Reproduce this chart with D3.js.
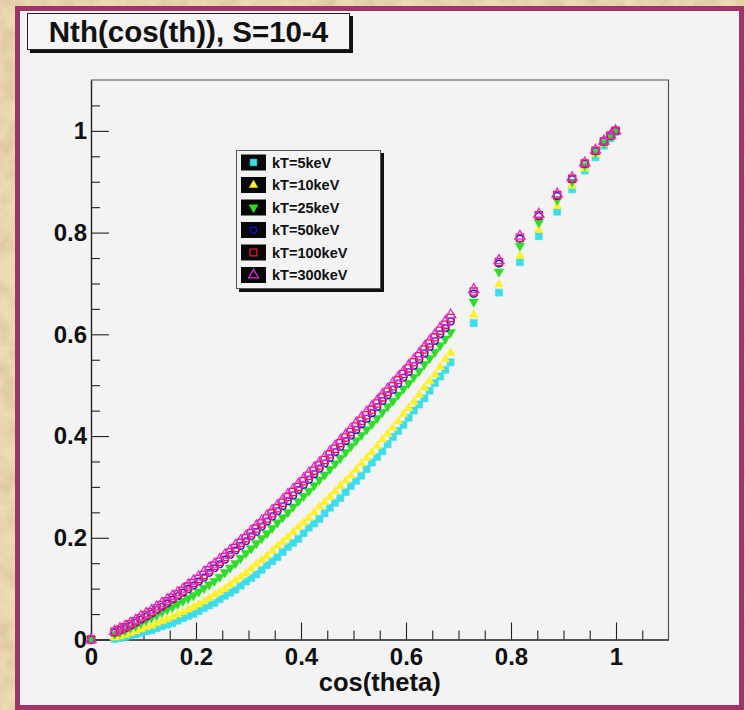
<!DOCTYPE html>
<html>
<head>
<meta charset="utf-8">
<script src="https://cdn.jsdelivr.net/npm/d3@7"></script>
<style>
  html, body { margin: 0; padding: 0; background: #e8d3a8; }
  svg { display: block; }
</style>
</head>
<body>
<div id="chart"></div>
<script>
// cos(theta) bin positions
const cosTheta = [0,
  0.045, 0.055, 0.065, 0.075, 0.085, 0.095, 0.105, 0.115, 0.125, 0.135,
  0.145, 0.155, 0.165, 0.175, 0.185, 0.195, 0.205, 0.215, 0.225, 0.235,
  0.245, 0.255, 0.265, 0.275, 0.285, 0.295, 0.305, 0.315, 0.325, 0.335,
  0.345, 0.355, 0.365, 0.375, 0.385, 0.395, 0.405, 0.415, 0.425, 0.435,
  0.445, 0.455, 0.465, 0.475, 0.485, 0.495, 0.505, 0.515, 0.525, 0.535,
  0.545, 0.555, 0.565, 0.575, 0.585, 0.595, 0.605, 0.615, 0.625, 0.635,
  0.645, 0.655, 0.665, 0.675, 0.685,
  0.729, 0.777, 0.817, 0.853, 0.888, 0.9165, 0.9405, 0.961, 0.977, 0.9895, 0.999];

const nth5keV = [0,
  0.001, 0.003, 0.005, 0.008, 0.010, 0.013, 0.016, 0.018, 0.022, 0.026,
  0.029, 0.032, 0.037, 0.042, 0.046, 0.050, 0.056, 0.062, 0.067, 0.072,
  0.079, 0.086, 0.092, 0.098, 0.106, 0.114, 0.121, 0.128, 0.137, 0.146,
  0.154, 0.162, 0.172, 0.182, 0.190, 0.198, 0.209, 0.220, 0.228, 0.237,
  0.248, 0.259, 0.269, 0.278, 0.290, 0.302, 0.312, 0.322, 0.335, 0.348,
  0.359, 0.370, 0.384, 0.398, 0.410, 0.422, 0.436, 0.450, 0.462, 0.474,
  0.489, 0.504, 0.517, 0.530, 0.545,
  0.622, 0.682, 0.742, 0.793, 0.841, 0.885, 0.922, 0.948, 0.971, 0.985, 0.998];

const nth10keV = [0,
  0.004, 0.006, 0.009, 0.013, 0.016, 0.020, 0.024, 0.027, 0.032, 0.036,
  0.040, 0.045, 0.049, 0.054, 0.059, 0.064, 0.069, 0.075, 0.081, 0.088,
  0.094, 0.100, 0.108, 0.116, 0.123, 0.130, 0.139, 0.148, 0.156, 0.164,
  0.174, 0.184, 0.192, 0.201, 0.211, 0.221, 0.230, 0.239, 0.250, 0.261,
  0.270, 0.280, 0.291, 0.302, 0.312, 0.322, 0.334, 0.346, 0.357, 0.368,
  0.380, 0.393, 0.404, 0.416, 0.429, 0.443, 0.455, 0.467, 0.481, 0.495,
  0.508, 0.521, 0.536, 0.551, 0.564,
  0.638, 0.698, 0.754, 0.805, 0.852, 0.892, 0.926, 0.954, 0.975, 0.988, 0.999];

const nth25keV = [0,
  0.011, 0.014, 0.018, 0.023, 0.027, 0.032, 0.038, 0.043, 0.048, 0.054,
  0.059, 0.064, 0.070, 0.076, 0.081, 0.087, 0.094, 0.101, 0.108, 0.115,
  0.123, 0.132, 0.141, 0.150, 0.160, 0.170, 0.179, 0.189, 0.199, 0.209,
  0.219, 0.230, 0.240, 0.250, 0.261, 0.272, 0.282, 0.292, 0.303, 0.314,
  0.324, 0.335, 0.346, 0.357, 0.368, 0.380, 0.391, 0.402, 0.413, 0.424,
  0.435, 0.447, 0.458, 0.469, 0.481, 0.493, 0.504, 0.516, 0.528, 0.541,
  0.553, 0.565, 0.578, 0.591, 0.604,
  0.664, 0.723, 0.774, 0.820, 0.864, 0.900, 0.932, 0.958, 0.977, 0.989, 0.999];

const nth50keV = [0,
  0.014, 0.018, 0.022, 0.027, 0.033, 0.039, 0.045, 0.051, 0.058, 0.064,
  0.071, 0.078, 0.085, 0.092, 0.099, 0.106, 0.114, 0.122, 0.131, 0.140,
  0.148, 0.157, 0.166, 0.175, 0.184, 0.193, 0.203, 0.212, 0.222, 0.232,
  0.242, 0.252, 0.262, 0.272, 0.283, 0.294, 0.304, 0.314, 0.325, 0.336,
  0.346, 0.357, 0.368, 0.379, 0.390, 0.401, 0.412, 0.423, 0.434, 0.445,
  0.457, 0.469, 0.480, 0.491, 0.503, 0.515, 0.526, 0.538, 0.550, 0.562,
  0.575, 0.587, 0.600, 0.612, 0.625,
  0.680, 0.739, 0.788, 0.832, 0.872, 0.905, 0.935, 0.960, 0.979, 0.990, 1.000];

const nth100keV = [0,
  0.015, 0.019, 0.024, 0.030, 0.036, 0.042, 0.048, 0.054, 0.061, 0.068,
  0.075, 0.082, 0.089, 0.096, 0.104, 0.111, 0.119, 0.127, 0.136, 0.145,
  0.153, 0.162, 0.171, 0.180, 0.190, 0.199, 0.209, 0.218, 0.228, 0.238,
  0.248, 0.258, 0.269, 0.280, 0.290, 0.300, 0.311, 0.322, 0.332, 0.342,
  0.353, 0.364, 0.375, 0.386, 0.397, 0.408, 0.419, 0.430, 0.441, 0.452,
  0.464, 0.476, 0.487, 0.498, 0.510, 0.522, 0.533, 0.545, 0.557, 0.570,
  0.582, 0.594, 0.607, 0.619, 0.632,
  0.684, 0.742, 0.790, 0.834, 0.874, 0.906, 0.936, 0.961, 0.979, 0.991, 1.000];

const nth300keV = [0,
  0.016, 0.021, 0.026, 0.032, 0.038, 0.045, 0.051, 0.057, 0.064, 0.071,
  0.078, 0.085, 0.092, 0.099, 0.107, 0.115, 0.123, 0.132, 0.140, 0.148,
  0.157, 0.166, 0.175, 0.185, 0.194, 0.203, 0.213, 0.223, 0.233, 0.243,
  0.253, 0.263, 0.274, 0.285, 0.295, 0.305, 0.316, 0.327, 0.337, 0.347,
  0.358, 0.369, 0.380, 0.391, 0.402, 0.414, 0.425, 0.436, 0.447, 0.458,
  0.469, 0.481, 0.492, 0.504, 0.515, 0.526, 0.538, 0.550, 0.562, 0.575,
  0.587, 0.599, 0.612, 0.625, 0.638,
  0.688, 0.745, 0.793, 0.836, 0.876, 0.908, 0.937, 0.962, 0.980, 0.991, 1.000];

const seriesNames = ['kT=5keV', 'kT=10keV', 'kT=25keV', 'kT=50keV', 'kT=100keV', 'kT=300keV'];
const seriesValues = [nth5keV, nth10keV, nth25keV, nth50keV, nth100keV, nth300keV];

const xMajor  = [0, 0.2, 0.4, 0.6, 0.8, 1];
const xMinor  = [0.05, 0.1, 0.15, 0.25, 0.3, 0.35, 0.45, 0.5, 0.55, 0.65, 0.7, 0.75, 0.85, 0.9, 0.95, 1.05];
const xLabels = ['0', '0.2', '0.4', '0.6', '0.8', '1'];
const yMajor  = [0, 0.2, 0.4, 0.6, 0.8, 1];
const yMinor  = [0.05, 0.1, 0.15, 0.25, 0.3, 0.35, 0.45, 0.5, 0.55, 0.65, 0.7, 0.75, 0.85, 0.9, 0.95, 1.05];
const yLabels = ['0', '0.2', '0.4', '0.6', '0.8', '1'];

const titleText = 'Nth(cos(th)), S=10-4';
const xTitle    = 'cos(theta)';

// marker look for each series (ROOT style)
const markers = [
  { shape: d3.symbolSquare,   color: '#3ddcec', fill: true,  size: 50, rot: 0 },
  { shape: d3.symbolTriangle, color: '#fff02a', fill: true,  size: 34, rot: 0 },
  { shape: d3.symbolTriangle, color: '#2fdc28', fill: true,  size: 40, rot: 180 },
  { shape: d3.symbolCircle,   color: '#1010e8', fill: false, size: 36, rot: 0 },
  { shape: d3.symbolSquare,   color: '#f01030', fill: false, size: 52, rot: 0 },
  { shape: d3.symbolTriangle, color: '#d830d0', fill: false, size: 46, rot: 0 }
];

const W = 745, H = 710;
const font = '"Liberation Sans", Arial, Helvetica, sans-serif';
const svg = d3.select('#chart').append('svg').attr('width', W).attr('height', H);

// parchment backdrop
const defs = svg.append('defs');
const paper = defs.append('filter').attr('id', 'paper')
  .attr('x', 0).attr('y', 0).attr('width', '100%').attr('height', '100%');
paper.append('feTurbulence').attr('type', 'fractalNoise')
  .attr('baseFrequency', '0.05').attr('numOctaves', 4).attr('seed', 7);
paper.append('feColorMatrix').attr('type', 'matrix')
  .attr('values', '0 0 0 0 0.60  0 0 0 0 0.47  0 0 0 0 0.28  1.3 0 0 0 -0.45');
svg.append('rect').attr('width', W).attr('height', H).attr('fill', '#eedbb4');
svg.append('rect').attr('width', W).attr('height', H).attr('filter', 'url(#paper)').attr('opacity', 0.9);

// canvas with purple border
svg.append('rect')
  .attr('x', 17.5).attr('y', 8.5).attr('width', 724).attr('height', 699)
  .attr('fill', '#f3f3f3').attr('stroke', '#a0336a').attr('stroke-width', 5);

// title pave
svg.append('rect').attr('x', 30).attr('y', 16).attr('width', 323).attr('height', 37).attr('fill', '#111');
svg.append('rect').attr('x', 27.5).attr('y', 13.5).attr('width', 322).attr('height', 36)
  .attr('fill', '#f4f4f4').attr('stroke', '#222').attr('stroke-width', 1);
svg.append('text').attr('x', 188.5).attr('y', 41.5)
  .attr('text-anchor', 'middle').attr('font-family', font).attr('font-weight', 'bold')
  .attr('font-size', '29.5px').attr('fill', '#111').text(titleText);

// scales
const x = d3.scaleLinear().domain([0, 1.1]).range([91, 668.5]);
const y = d3.scaleLinear().domain([0, 1.1]).range([639.5, 80]);

// frame top / right
svg.append('path')
  .attr('d', `M${x(0)},${y(1.1)}H${x(1.1)}V${y(0)}`)
  .attr('fill', 'none').attr('stroke', '#555').attr('stroke-width', 1.2);

function styleAxis(g, fs) {
  g.select('.domain').attr('stroke', '#222').attr('stroke-width', 1.4);
  g.selectAll('.tick line').attr('stroke', '#222').attr('stroke-width', 1.1);
  g.selectAll('.tick text').attr('font-family', font).attr('font-weight', 'bold')
    .attr('font-size', fs + 'px').attr('fill', '#111');
}

// x axis
const gx = svg.append('g').attr('transform', `translate(0,${y(0)})`)
  .call(d3.axisBottom(x).tickValues(xMajor).tickSizeInner(-17).tickSizeOuter(0)
    .tickPadding(8).tickFormat((d, i) => xLabels[i]));
styleAxis(gx, 24);
const gxm = svg.append('g').attr('transform', `translate(0,${y(0)})`)
  .call(d3.axisBottom(x).tickValues(xMinor).tickSizeInner(-9).tickSizeOuter(0).tickFormat(''));
gxm.select('.domain').remove();
styleAxis(gxm, 24);

// y axis
const gy = svg.append('g').attr('transform', `translate(${x(0)},0)`)
  .call(d3.axisLeft(y).tickValues(yMajor).tickSizeInner(-18).tickSizeOuter(0)
    .tickPadding(4).tickFormat((d, i) => yLabels[i]));
styleAxis(gy, 24);
const gym = svg.append('g').attr('transform', `translate(${x(0)},0)`)
  .call(d3.axisLeft(y).tickValues(yMinor).tickSizeInner(-9).tickSizeOuter(0).tickFormat(''));
gym.select('.domain').remove();
styleAxis(gym, 24);

// x title
svg.append('text').attr('x', (x(0) + x(1.1)) / 2).attr('y', 691)
  .attr('text-anchor', 'middle').attr('font-family', font).attr('font-weight', 'bold')
  .attr('font-size', '25.5px').attr('fill', '#111').text(xTitle);

// markers
function marker(g, m, px, py, scale) {
  g.append('path')
    .attr('d', d3.symbol().type(m.shape).size(m.size * (scale || 1))())
    .attr('transform', `translate(${px},${py}) rotate(${m.rot})`)
    .attr('fill', m.fill ? m.color : 'none')
    .attr('stroke', m.color)
    .attr('stroke-width', m.fill ? 0.5 : 1.3);
}

const pts = svg.append('g');
seriesValues.forEach((vals, si) => {
  const g = pts.append('g');
  vals.forEach((v, i) => marker(g, markers[si], x(cosTheta[i]), y(v)));
});

// legend
svg.append('rect').attr('x', 239).attr('y', 153).attr('width', 145).attr('height', 139).attr('fill', '#111');
svg.append('rect').attr('x', 236.5).attr('y', 150.5).attr('width', 144).attr('height', 138)
  .attr('fill', '#f3f3f3').attr('stroke', '#555').attr('stroke-width', 1);
seriesNames.forEach((name, i) => {
  const cy = 162.5 + i * 22.5;
  svg.append('rect').attr('x', 241).attr('y', cy - 8).attr('width', 25).attr('height', 16).attr('fill', '#080808');
  marker(svg, markers[i], 253.5, cy, 0.9);
  svg.append('text').attr('x', 272).attr('y', cy + 5)
    .attr('font-family', font).attr('font-weight', 'bold')
    .attr('font-size', '14.5px').attr('fill', '#111').text(name);
});
</script>
</body>
</html>
